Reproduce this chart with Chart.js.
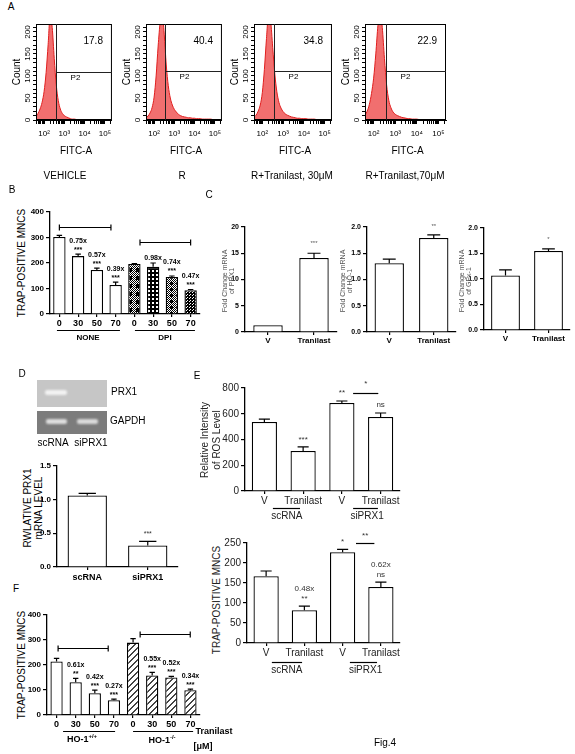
<!DOCTYPE html>
<html><head><meta charset="utf-8">
<script src="https://cdn.jsdelivr.net/npm/chart.js@4.4.0/dist/chart.umd.min.js"></script>
<style>
body{margin:0;background:#fff;}
#fig{position:relative;width:575px;height:754px;overflow:hidden;font-family:"Liberation Sans",Arial,sans-serif;color:#000;background:#fff;}
#fig canvas{position:absolute;}
.t{position:absolute;white-space:nowrap;line-height:1.15;text-align:center;}
.gel{position:absolute;}
.band{position:absolute;filter:blur(1px);border-radius:2px;}
</style></head><body><div id="fig"></div>
<script>
// ---------------- DATA ----------------
// Panel A: flow cytometry histograms (x = log10 FITC-A bin centre, y = count)
const FACS_LOG_BINS=[1.6,1.7,1.8,1.9,2.0,2.1,2.2,2.3,2.4,2.5,2.6,2.7,2.8,2.9,3.0,3.1,3.2,3.3,3.4,3.5,3.6,3.7,3.8,3.9,4.0,4.1,4.2,4.3,4.4,4.5,4.6,4.7,4.8,4.9,5.0,5.1,5.2];
const FACS_VEHICLE=[8,15,25,40,65,108,172,238,210,140,80,44,25,15,10,7,5,3,2,2,1,1,0,0,0,0,0,0,0,0,0,0,0,0,0,0,0];
const FACS_R=[5,9,16,28,52,100,168,222,242,195,125,78,50,34,24,18,13,10,8,7,6,5,5,4,4,3,3,3,2,2,2,2,2,1,1,1,1];
const FACS_R_T30=[6,11,20,34,62,115,185,240,225,165,105,64,40,27,19,14,11,9,7,6,5,4,4,3,3,3,2,2,2,2,1,1,1,1,1,0,0];
const FACS_R_T70=[10,20,35,60,95,150,215,245,210,140,80,45,28,18,13,10,8,6,5,4,3,3,2,2,2,1,1,1,1,1,0,0,0,0,0,0,0];
const FACS_PCT=['17.8','40.4','34.8','22.9'];
const FACS_GATE=[2.6,2.55,2.55,2.55];
const FACS_P2=[110,112,112,111];
const FACS_CAPTIONS=['VEHICLE','R','R+Tranilast, 30μM','R+Tranilast,70μM'];
const FACS_Y_TICKS=[0,50,100,150,200];

// Panel B
const B_LABELS=['0','30','50','70','0','30','50','70'];
const B_VALUES=[302,227,173,114,196,185,145,93];
const B_ERR=[6,8,7,11,2,15,4,3];
const B_FOLD=['','0.75x','0.57x','0.39x','','0.98x','0.74x','0.47x'];
const B_SIG=['','***','***','***','','','***','***'];
const B_GROUPS=['NONE','DPI'];

// Panel C
const C_LABELS=['V','Tranilast'];
const C_PRX1=[1.28,14.1], C_PRX1_ERR=[0,0.9];
const C_HO1=[1.31,1.79], C_HO1_ERR=[0.08,0.06];
const C_GPX1=[1.07,1.55], C_GPX1_ERR=[0.11,0.04];
const C_SIG=['***','**','*'];

// Panel D
const D_LABELS=['scRNA','siPRX1'];
const D_VALUES=[1.06,0.32];
const D_ERR=[0.03,0.06];

// Panel E
const E_LABELS=['V','Tranilast','V','Tranilast'];
const E_GROUPS=['scRNA','siPRX1'];
const E_ROS=[536,311,683,575];
const E_ROS_ERR=[23,31,16,31];
const E_TRAP=[167,82,227,140];
const E_TRAP_ERR=[13,10,7,12];

// Panel F
const F_LABELS=['0','30','50','70','0','30','50','70'];
const F_VALUES=[214,131,87,59,289,158,150,99];
const F_ERR=[12,15,12,4,16,12,4,4];
const F_FOLD=['','0.61x','0.42x','0.27x','','0.55x','0.52x','0.34x'];
const F_SIG=['','**','***','***','','***','***','***'];

// ---------------- HELPERS ----------------
const FF="'Liberation Sans', Arial, sans-serif";
Chart.defaults.font.family=FF;
Chart.defaults.color='#000';
const fig=document.getElementById('fig');

function txt(html,x,y,opt){
  opt=opt||{};
  const d=document.createElement('div');d.className='t';d.innerHTML=html;
  d.style.left=x+'px';d.style.top=y+'px';
  d.style.fontSize=(opt.size||10)+'px';
  if(opt.bold)d.style.fontWeight='bold';
  if(opt.color)d.style.color=opt.color;
  if(opt.lh)d.style.lineHeight=opt.lh;
  d.style.transform=(opt.anchor==='left'?'translate(0,-50%)':'translate(-50%,-50%)')+(opt.rot?' rotate(-90deg)':'');
  fig.appendChild(d);return d;
}
function rotLines(lines,xs,y,opt){lines.forEach((s,i)=>txt(s,xs[i],y,Object.assign({rot:true},opt)));}
function mkCanvas(x0,x1,yTop,y0,L,T,R,B){
  const c=document.createElement('canvas');
  const w=L+(x1-x0)+R,h=T+(y0-yTop)+B;
  c.width=w;c.height=h;c.style.width=w+'px';c.style.height=h+'px';
  c.style.left=(x0-L)+'px';c.style.top=(yTop-T)+'px';
  fig.appendChild(c);return c;
}
function tilePattern(w,h,draw){
  const t=document.createElement('canvas');t.width=w;t.height=h;
  const g=t.getContext('2d');g.fillStyle='#fff';g.fillRect(0,0,w,h);g.fillStyle='#000';draw(g);
  return g.createPattern(t,'repeat');
}
function dither(g,x0,y0,w,h){for(let y=y0;y<y0+h;y++)for(let x=x0;x<x0+w;x++)if((x+y)%2===0)g.fillRect(x,y,1,1);}
const PAT_DPI0=tilePattern(8,8,g=>{dither(g,0,0,8,8);g.fillRect(4,0,4,4);});
const PAT_DPI30=tilePattern(4,4,g=>{g.fillRect(0,0,4,2);g.fillRect(2,2,2,2);});
const PAT_DPI50=tilePattern(6,6,g=>{dither(g,0,0,6,6);g.fillRect(0,0,3,3);});
const PAT_DPI70=tilePattern(3,3,g=>{g.fillRect(0,0,3,3);g.fillStyle='#fff';g.fillRect(1,1,1,1);g.fillRect(2,0,1,1);});
const PAT_HATCH=tilePattern(6,6,g=>{g.fillStyle='#444';for(let i=0;i<6;i++){g.fillRect(i,5-i,1,1);g.fillRect(i,(6-i)%6,1,1);}});

function annPlugin(o){
  return {id:'ann',afterDatasetsDraw(chart){
    const ctx=chart.ctx,xs=chart.scales.x,ys=chart.scales.y,meta=chart.getDatasetMeta(0),vals=chart.data.datasets[0].data;
    const errs=o.errors||[];
    ctx.save();
    ctx.strokeStyle='#000';ctx.lineWidth=o.elw||1.2;
    errs.forEach((e,i)=>{
      if(!e)return;const b=meta.data[i];
      const yt=ys.getPixelForValue(vals[i]+e),yb=ys.getPixelForValue(vals[i]);
      const hw=b.width*(o.cap||0.22);
      ctx.beginPath();ctx.moveTo(b.x,yb);ctx.lineTo(b.x,yt);ctx.moveTo(b.x-hw,yt);ctx.lineTo(b.x+hw,yt);ctx.stroke();
    });
    (o.above||[]).forEach(a=>{
      const b=meta.data[a.i];
      let yy=ys.getPixelForValue(vals[a.i]+(errs[a.i]||0))-(a.gap!=null?a.gap:o.gap||2);
      ctx.textAlign='center';ctx.textBaseline='bottom';
      a.lines.slice().reverse().forEach(l=>{
        if(!l){return;}
        ctx.font=o.annFont;ctx.fillStyle=o.annColor||'#000';
        ctx.fillText(l,b.x+(a.dx||0),yy);yy-=o.annLH||8;
      });
    });
    ctx.strokeStyle='#000';ctx.lineWidth=1.2;
    (o.lines||[]).forEach(l=>{
      const x1=xs.getPixelForValue(l.a),x2=xs.getPixelForValue(l.b),yy=Math.round(ys.getPixelForValue(l.v))+0.5;
      ctx.beginPath();ctx.moveTo(x1,yy);ctx.lineTo(x2,yy);
      if(l.ends){ctx.moveTo(x1,yy-3);ctx.lineTo(x1,yy+3);ctx.moveTo(x2,yy-3);ctx.lineTo(x2,yy+3);}
      ctx.stroke();
    });
    (o.texts||[]).forEach(t=>{
      ctx.font=t.font||o.annFont;ctx.fillStyle=t.color||o.annColor||'#000';ctx.textAlign='center';ctx.textBaseline='middle';
      ctx.fillText(t.t,xs.getPixelForValue(t.x),ys.getPixelForValue(t.v));
    });
    (o.groups||[]).forEach(g=>{
      const yy=Math.round(chart.chartArea.bottom+g.dy)+0.5;
      ctx.beginPath();ctx.moveTo(xs.getPixelForValue(g.a),yy);ctx.lineTo(xs.getPixelForValue(g.b),yy);ctx.stroke();
      if(g.label){ctx.font=g.font;ctx.fillStyle=g.color||'#000';ctx.textAlign='center';ctx.textBaseline='middle';
        ctx.fillText(g.label,xs.getPixelForValue(g.m),yy+g.ly);}
    });
    ctx.restore();
  }};
}
function barChart(o){
  const c=mkCanvas(o.x0,o.x1,o.yTop,o.y0,o.L,o.T,o.R,o.B);
  return new Chart(c,{type:'bar',
    data:{labels:o.labels,datasets:[{data:o.values,backgroundColor:o.fills||'#fff',borderColor:'#000',borderWidth:o.bw||1.3,barPercentage:o.barPct,categoryPercentage:1}]},
    options:{responsive:false,animation:false,devicePixelRatio:1,
      layout:{padding:{left:0,top:o.T,right:o.R,bottom:0}},
      plugins:{legend:{display:false},tooltip:{enabled:false}},
      scales:{
        x:{type:'category',offset:true,ticks:{font:o.xFont,color:o.xColor||'#000',maxRotation:0,minRotation:0,autoSkip:false,padding:o.xPad!=null?o.xPad:1},
           grid:{offset:false,drawOnChartArea:false,tickLength:3,color:'#000',lineWidth:1.2},border:{color:'#000',width:1.3},
           afterFit:s=>{s.height=o.B;}},
        y:{min:o.min,max:o.max,ticks:{stepSize:o.step,font:o.yFont,color:o.yColor||'#000',padding:2,callback:o.yCb||(v=>v)},
           grid:{drawOnChartArea:false,tickLength:4,color:'#000',lineWidth:1.2},border:{color:'#000',width:1.3},
           afterFit:s=>{s.width=o.L;}}
      }},
    plugins:[annPlugin(o)]});
}
function aboveList(fold,sig){const r=[];fold.forEach((f,i)=>{if(f||sig[i])r.push({i,lines:[f,sig[i]]});});return r;}

// ---------------- PANEL A ----------------
txt('A',11,7,{size:10});
const FACS_DATA=[FACS_VEHICLE,FACS_R,FACS_R_T30,FACS_R_T70];
const FACS_LEFT=[36,146,254,365],FACS_W=[76,76,78,81];
const SUP={2:'10²',3:'10³',4:'10⁴',5:'10⁵'};
function facsChart(k){
  const L=16,T=4,R=4,B=24,top=24,bottom=120,left=FACS_LEFT[k];
  const c=mkCanvas(left,left+FACS_W[k],top,bottom,L,T,R,B);
  const pts=FACS_LOG_BINS.map((b,i)=>({x:b,y:FACS_DATA[k][i]}));
  const ch=new Chart(c,{type:'line',
    data:{datasets:[{data:pts,fill:'origin',backgroundColor:'rgba(238,86,86,0.85)',borderColor:'#e01e1e',borderWidth:1,pointRadius:0,cubicInterpolationMode:'monotone'}]},
    options:{responsive:false,animation:false,devicePixelRatio:1,
      layout:{padding:{left:0,top:T,right:R,bottom:0}},
      plugins:{legend:{display:false},tooltip:{enabled:false}},
      scales:{
        x:{type:'linear',min:1.6,max:5.35,
          afterBuildTicks:s=>{const t=[];for(let n=1;n<=5;n++)for(let m=1;m<=9;m++){const v=n+Math.log10(m);if(v>=1.6&&v<=5.35)t.push({value:v,major:m===1});}s.ticks=t;},
          ticks:{autoSkip:false,maxRotation:0,minRotation:0,font:{size:8},color:'#000',padding:5,callback:v=>SUP[v]||''},
          grid:{drawOnChartArea:false,tickLength:4,color:'#000',lineWidth:1},border:{color:'#000',width:1},
          afterFit:s=>{s.height=B;}},
        y:{min:0,max:218,
          afterBuildTicks:s=>{const t=[];for(let v=0;v<=210;v+=10)t.push({value:v});s.ticks=t;},
          ticks:{display:false},
          grid:{drawOnChartArea:false,tickLength:3,color:'#000',lineWidth:1},border:{color:'#000',width:1},
          afterFit:s=>{s.width=L;}}
      }},
    plugins:[{id:'facs',afterDraw(chart){
      const ctx=chart.ctx,a=chart.chartArea,xs=chart.scales.x,ys=chart.scales.y;
      ctx.save();
      ctx.strokeStyle='#000';ctx.lineWidth=1;
      ctx.strokeRect(a.left+0.5,a.top+0.5,a.right-a.left-1,a.bottom-a.top-1);
      const gx=Math.round(xs.getPixelForValue(FACS_GATE[k]))+0.5,gy=Math.round(ys.getPixelForValue(FACS_P2[k]))+0.5;
      ctx.strokeStyle='#222';ctx.beginPath();ctx.moveTo(gx,a.top);ctx.lineTo(gx,a.bottom);ctx.moveTo(gx,gy);ctx.lineTo(a.right,gy);ctx.stroke();
      ctx.fillStyle='#000';ctx.font='8px '+FF;ctx.textAlign='center';ctx.textBaseline='top';
      ctx.fillText('P2',gx+19,gy+1);
      ctx.font='10px '+FF;ctx.textAlign='right';ctx.textBaseline='middle';
      ctx.fillText(FACS_PCT[k],a.right-9,a.top+17);
      ctx.restore();
    }}]});
  // rotated count tick labels placed with the chart's own y scale
  const ys=ch.scales.y,cTop=top-T;
  FACS_Y_TICKS.forEach(v=>txt(String(v),left-8,cTop+ys.getPixelForValue(v),{size:8,rot:true}));
  txt('Count',left-19,72,{size:10,rot:true});
  txt('FITC-A',left+FACS_W[k]/2+2,151,{size:10});
}
[0,1,2,3].forEach(facsChart);
const CAP_X=[65,182,292,405];
FACS_CAPTIONS.forEach((s,i)=>txt(s,CAP_X[i],176,{size:10}));

// ---------------- PANEL B ----------------
txt('B',12,190,{size:10});
txt('TRAP-POSITIVE MNCS',22,263,{size:10,rot:true});
barChart({x0:50,x1:200,yTop:212,y0:314,L:30,T:8,R:5,B:32,
  labels:B_LABELS,values:B_VALUES,errors:B_ERR,barPct:0.66,
  fills:['#fff','#fff','#fff','#fff',PAT_DPI0,PAT_DPI30,PAT_DPI50,PAT_DPI70],
  min:0,max:400,step:100,yFont:{size:8,weight:'bold'},xFont:{size:9,weight:'bold'},
  annFont:'bold 7px '+FF,annLH:9,gap:1,
  above:aboveList(B_FOLD,B_SIG),
  lines:[{a:0,b:2.75,v:341,ends:true},{a:4.3,b:7.0,v:282,ends:true}],
  groups:[{a:-0.13,b:3.23,dy:16,m:1.53,ly:7,label:B_GROUPS[0],font:'bold 8px '+FF},
          {a:4.03,b:7.23,dy:16,m:5.63,ly:7,label:B_GROUPS[1],font:'bold 8px '+FF}]});

// ---------------- PANEL C ----------------
txt('C',209,195,{size:10});
const C_TICKF={size:7,weight:'bold'},C_XF={size:8,weight:'bold'};
const cFix=v=>v.toFixed(1);
barChart({x0:245,x1:337,yTop:227,y0:332,L:16,T:18,R:4,B:16,labels:C_LABELS,values:C_PRX1,errors:C_PRX1_ERR,barPct:0.64,
  min:0,max:20,step:5,yFont:C_TICKF,xFont:C_XF,annFont:'6px '+FF,annColor:'#555',gap:7,above:[{i:1,lines:[C_SIG[0]]}]});
barChart({x0:367,x1:456,yTop:227,y0:332,L:16,T:18,R:4,B:16,labels:C_LABELS,values:C_HO1,errors:C_HO1_ERR,barPct:0.66,
  min:0,max:2,step:0.5,yCb:cFix,yFont:C_TICKF,xFont:C_XF,annFont:'6px '+FF,annColor:'#555',gap:6,above:[{i:1,lines:[C_SIG[1]]}]});
barChart({x0:484,x1:570,yTop:228,y0:330,L:16,T:18,R:4,B:16,labels:C_LABELS,values:C_GPX1,errors:C_GPX1_ERR,barPct:0.67,
  min:0,max:2,step:0.5,yCb:cFix,yFont:C_TICKF,xFont:C_XF,annFont:'6px '+FF,annColor:'#555',gap:7,above:[{i:1,lines:[C_SIG[2]]}]});
rotLines(['Fold Change mRNA','of PRX1'],[225,232],281,{size:7,color:'#555'});
rotLines(['Fold Change mRNA','of HO-1'],[343,350],281,{size:7,color:'#555'});
rotLines(['Fold Change mRNA','of GPx-1'],[462,469],281,{size:7,color:'#555'});

// ---------------- PANEL D ----------------
txt('D',22,374,{size:10});
function gel(l,t,w,h,bg,bands){
  const g=document.createElement('div');g.className='gel';
  Object.assign(g.style,{left:l+'px',top:t+'px',width:w+'px',height:h+'px',background:bg});fig.appendChild(g);
  bands.forEach(b=>{const d=document.createElement('div');d.className='band';
    Object.assign(d.style,{left:(b[0]-l)+'px',top:(b[1]-t)+'px',width:b[2]+'px',height:b[3]+'px',background:b[4]});g.appendChild(d);});
}
gel(37,380,70,27,'#c6c6c6',[[45,390,22,5,'#f2f2f2']]);
gel(37,411,70,23,'#7c7c7c',[[46,419,21,5,'#dedede'],[77,419,21,5,'#dadada']]);
txt('PRX1',111,392,{size:10,anchor:'left'});
txt('GAPDH',110,421,{size:10,anchor:'left'});
txt('scRNA',53,443,{size:10});
txt('siPRX1',91,443,{size:10});
rotLines(['RWLATIVE PRX1','mRNA LEVEL'],[28,39],508,{size:10});
barChart({x0:57,x1:178,yTop:465,y0:567,L:22,T:6,R:4,B:18,labels:D_LABELS,values:D_VALUES,errors:D_ERR,barPct:0.65,
  min:0,max:1.5,step:0.5,yCb:cFix,yFont:{size:8,weight:'bold'},xFont:{size:9,weight:'bold'},xPad:2,
  annFont:'7px '+FF,annColor:'#333',gap:4,above:[{i:1,lines:['***']}]});

// ---------------- PANEL E ----------------
txt('E',197,376,{size:10});
rotLines(['Relative Intensity','of ROS Level'],[205,217],440,{size:10,color:'#222'});
const E_TF={size:10},E_XF={size:10};
barChart({x0:245,x1:400,yTop:388,y0:491,L:28,T:14,R:8,B:34,labels:E_LABELS,values:E_ROS,errors:E_ROS_ERR,barPct:0.65,
  min:0,max:800,step:200,yFont:E_TF,xFont:E_XF,yColor:'#222',xColor:'#222',xPad:1,
  annFont:'8px '+FF,annColor:'#333',annLH:10,gap:3,
  above:[{i:1,lines:['***']},{i:3,lines:['ns'],gap:4}],
  lines:[{a:2.29,b:2.94,v:762}],
  texts:[{t:'**',x:2,v:762},{t:'*',x:2.62,v:835}],
  groups:[{a:0.22,b:0.92,dy:17,m:0.58,ly:8,label:E_GROUPS[0],font:'10px '+FF,color:'#222'},
          {a:2.29,b:2.93,dy:17,m:2.65,ly:8,label:E_GROUPS[1],font:'10px '+FF,color:'#222'}]});
txt('TRAP-POSITIVE MNCS',217,600,{size:10,rot:true,color:'#222'});
barChart({x0:247,x1:400,yTop:543,y0:643,L:28,T:12,R:8,B:34,labels:E_LABELS,values:E_TRAP,errors:E_TRAP_ERR,barPct:0.66,
  min:0,max:250,step:50,yFont:E_TF,xFont:E_XF,yColor:'#222',xColor:'#222',xPad:1,
  annFont:'8px '+FF,annColor:'#333',annLH:10,gap:3,
  above:[{i:1,lines:['0.48x','**']},{i:3,lines:['0.62x','ns']}],
  lines:[{a:2.35,b:2.83,v:250}],
  texts:[{t:'*',x:2,v:252},{t:'**',x:2.59,v:268}],
  groups:[{a:0.15,b:0.94,dy:19,m:0.54,ly:8,label:E_GROUPS[0],font:'10px '+FF,color:'#222'},
          {a:2.19,b:2.9,dy:19,m:2.6,ly:8,label:E_GROUPS[1],font:'10px '+FF,color:'#222'}]});

// ---------------- PANEL F ----------------
txt('F',16,589,{size:10});
txt('TRAP-POSITIVE MNCS',22,665,{size:10,rot:true});
barChart({x0:47,x1:200,yTop:614,y0:715,L:26,T:6,R:4,B:20,labels:F_LABELS,values:F_VALUES,errors:F_ERR,barPct:0.64,
  fills:['#fff','#fff','#fff','#fff',PAT_HATCH,PAT_HATCH,PAT_HATCH,PAT_HATCH],
  min:0,max:400,step:100,yFont:{size:8,weight:'bold'},xFont:{size:9,weight:'bold'},xPad:1,
  annFont:'bold 7px '+FF,annLH:9,gap:1,
  above:aboveList(F_FOLD,F_SIG),
  lines:[{a:0.08,b:2.7,v:269,ends:true},{a:4.37,b:6.99,v:325,ends:true}],
  groups:[{a:0.34,b:3.06,dy:16},{a:4.0,b:7.14,dy:16}]});
txt('HO-1<sup style="font-size:6px">+/+</sup>',82,739,{size:9,bold:true});
txt('HO-1<sup style="font-size:6px">-/-</sup>',162,740,{size:9,bold:true});
txt('Tranilast',214,731,{size:9,bold:true});
txt('[μM]',203,746,{size:9,bold:true});

txt('Fig.4',385,743,{size:10});
</script></body></html>
